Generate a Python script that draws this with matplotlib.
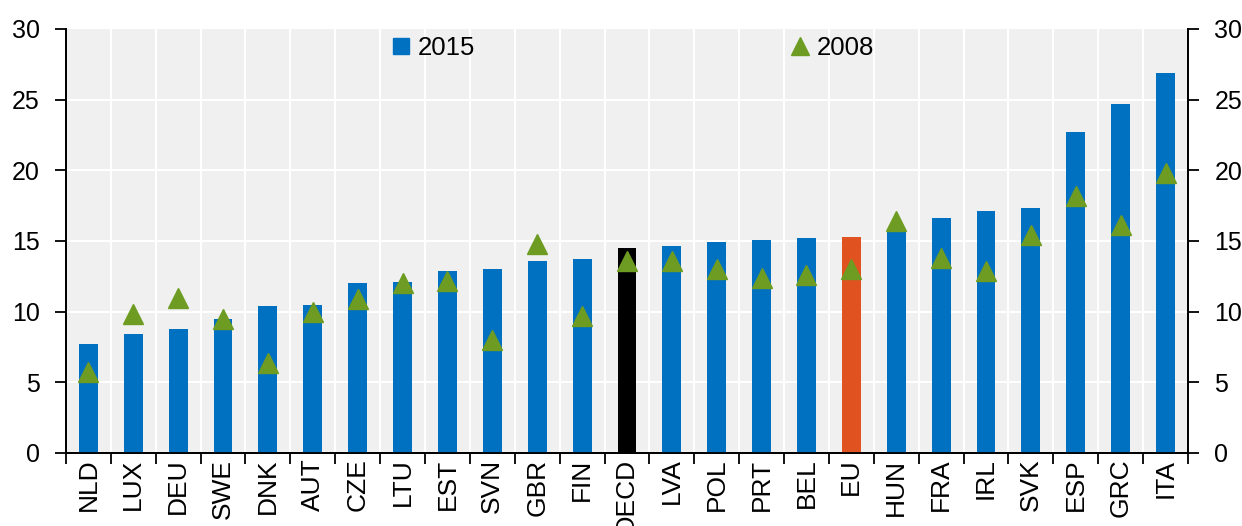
import matplotlib
matplotlib.use("Agg")
import matplotlib.pyplot as plt
from matplotlib.lines import Line2D
import numpy as np

plt.rcParams['font.family'] = ['Liberation Sans', 'DejaVu Sans']

countries = ["NLD", "LUX", "DEU", "SWE", "DNK", "AUT", "CZE", "LTU", "EST", "SVN", "GBR", "FIN",
             "OECD", "LVA", "POL", "PRT", "BEL", "EU", "HUN", "FRA", "IRL", "SVK", "ESP", "GRC", "ITA"]
val_2015 = [7.7, 8.4, 8.8, 9.5, 10.4, 10.5, 12.05, 12.1, 12.9, 13.0, 13.6, 13.7,
            14.5, 14.65, 14.9, 15.1, 15.2, 15.3, 15.8, 16.65, 17.1, 17.3, 22.7, 24.7, 26.9]
val_2008 = [5.7, 9.8, 11.0, 9.5, 6.4, 10.0, 10.9, 12.0, 12.2, 8.0, 14.8, 9.7,
            13.6, 13.6, 13.0, 12.4, 12.6, 13.0, 16.4, 13.8, 12.9, 15.4, 18.2, 16.1, 19.8]

BLUE = "#0070C0"
GREEN = "#6E9C22"
bar_colors = [BLUE] * len(countries)
bar_colors[countries.index("OECD")] = "#000000"
bar_colors[countries.index("EU")] = "#E0521F"

fig = plt.figure(figsize=(12.42, 5.26), dpi=100)
ax = fig.add_axes([0.0531, 0.1388, 0.9034, 0.8061])
ax.set_facecolor("#F0F0F0")

x = np.arange(len(countries))
ax.bar(x, val_2015, width=0.42, color=bar_colors, zorder=3)
ax.plot(x, val_2008, linestyle="none", marker="^", ms=14, color=GREEN, zorder=4)

ax.set_xlim(-0.5, len(countries) - 0.5)
ax.set_ylim(0, 30)

# gridlines
for b in np.arange(0.5, len(countries) - 0.5, 1):
    ax.axvline(b, color="white", lw=1.5, zorder=1)
for yv in [5, 10, 15, 20, 25]:
    ax.axhline(yv, color="white", lw=1.5, zorder=1)

ax.set_xticks(np.arange(-0.5, len(countries), 1))
ax.set_xticklabels([])
ax.set_xticks(x, minor=True)
ax.set_xticklabels(countries, minor=True, rotation=90, fontsize=19)
ax.tick_params(axis="x", which="minor", length=0, pad=4)
ax.tick_params(axis="x", which="major", length=8, width=1.3, direction="out")

ax.set_yticks([0, 5, 10, 15, 20, 25, 30])
ax.tick_params(axis="y", labelsize=18, length=8, width=1.3, direction="out", pad=11)

ax2 = ax.twinx()
ax2.set_ylim(0, 30)
ax2.set_yticks([0, 5, 10, 15, 20, 25, 30])
ax2.tick_params(axis="y", labelsize=18, length=8, width=1.3, direction="out", pad=11)

for a in (ax, ax2):
    a.spines["top"].set_visible(False)
    for s in ("left", "right", "bottom"):
        a.spines[s].set_linewidth(1.3)
        a.spines[s].set_color("black")

handles = [Line2D([], [], linestyle="none", marker="s", ms=11.5, color=BLUE),
           Line2D([], [], linestyle="none", marker="^", ms=13, color=GREEN)]
leg = ax.legend(handles, ["2015", "2008"], ncol=2, frameon=False, fontsize=18.5,
                loc="upper left", bbox_to_anchor=(392 / 1242, 1 - 36 / 526),
                bbox_transform=fig.transFigure, columnspacing=12.3,
                handlelength=0.7, handletextpad=0.3, borderaxespad=0, borderpad=0)

fig.savefig("out.png", dpi=100)
